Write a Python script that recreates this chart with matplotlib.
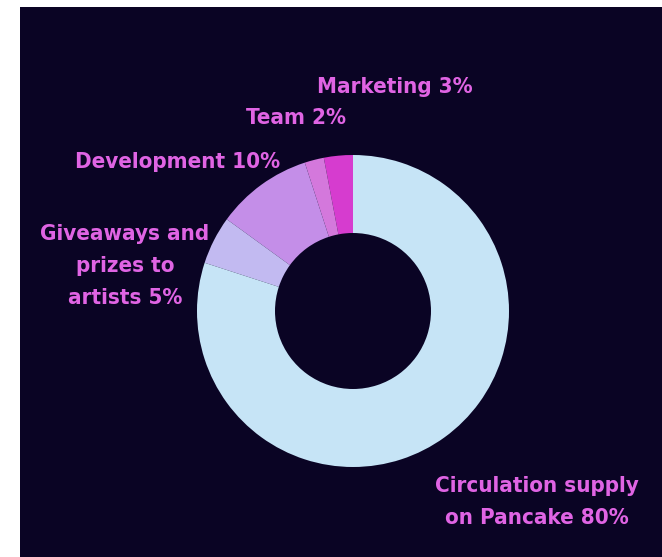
import matplotlib
matplotlib.use("Agg")
import matplotlib.pyplot as plt

# slices, counter-clockwise from 12 o'clock
labels = ["Marketing 3%", "Team 2%", "Development 10%",
          "Giveaways and\nprizes to\nartists 5%", "Circulation supply\non Pancake 80%"]
shares = [3, 2, 10, 5, 80]
colors = ["#d63ccf", "#d478dc", "#c48ee8", "#c2baf1", "#c6e4f6"]

# label anchors in pixel coords (x from left, y from top)
label_pos = [(395, 87), (296, 118), (178, 162), (125, 266), (537, 502)]

bg = "#0a0424"
text_color = "#e064e4"

def main():
	fig = plt.figure(figsize=(6.62, 5.57), dpi=100, facecolor="white")
	ax = fig.add_axes([20 / 662, 0, 642 / 662, 550 / 557])
	ax.set_facecolor(bg)

	# y axis runs downward, so angles are mirrored
	ax.pie(shares, colors=colors, startangle=-90, counterclock=False,
		center=(353, 311), radius=156, frame=True,
		wedgeprops=dict(width=78, linewidth=0))

	ax.set_xlim(20, 662)
	ax.set_ylim(557, 7)
	ax.set_aspect("auto")
	ax.set_xticks([])
	ax.set_yticks([])
	for s in ax.spines.values():
		s.set_visible(False)

	for lab, (x, y) in zip(labels, label_pos):
		ax.text(x, y, lab, color=text_color, fontsize=16, fontweight="bold",
			family="DejaVu Sans", fontstretch="condensed",
			ha="center", va="center", linespacing=1.75)

	fig.savefig("out.png", dpi=100, facecolor="white")

if __name__ == "__main__":
	main()
